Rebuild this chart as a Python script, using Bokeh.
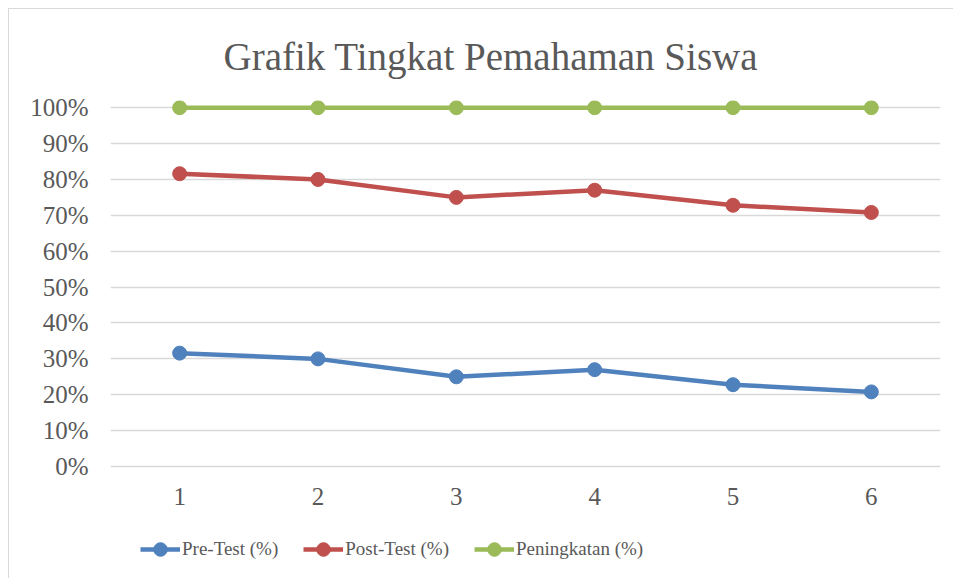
from bokeh.plotting import figure
from bokeh.models import FactorRange, Range1d, FixedTicker, Legend, LegendItem
from bokeh.embed import file_html
from bokeh.resources import INLINE

# ---- data ----
categories = ["1", "2", "3", "4", "5", "6"]
pre_test = [31.6, 30.0, 25.0, 27.0, 22.8, 20.8]
post_test = [81.6, 80.0, 75.0, 77.0, 72.8, 70.8]
peningkatan = [100, 100, 100, 100, 100, 100]
y_ticks = [0, 10, 20, 30, 40, 50, 60, 70, 80, 90, 100]
series_names = ["Pre-Test (%)", "Post-Test (%)", "Peningkatan (%)"]
colors = ["#4F81BD", "#C0504D", "#9BBB59"]

FONT = "Liberation Serif"
TXT = "#595959"

# the frame reaches below 0% so that the legend (drawn in the frame) is visible
p = figure(width=945, height=570, output_backend="svg", toolbar_location=None,
           x_range=FactorRange(factors=categories), y_range=Range1d(-31.2, 102),
           min_border_left=101, min_border_right=14, min_border_top=91,
           min_border_bottom=1)
p.styles = {"margin-left": "8px", "margin-top": "8px",
            "border-left": "1px solid #D9D9D9", "border-top": "1px solid #D9D9D9"}

p.title.text = "Grafik Tingkat Pemahaman Siswa"
p.title.align = "left"
p.title.offset = 113
p.title.text_font = FONT
p.title.text_font_size = "39px"
p.title.text_font_style = "normal"
p.title.text_color = TXT
p.title.standoff = 46

p.outline_line_color = None
p.xgrid.grid_line_color = None
p.ygrid.grid_line_color = "#D9D9D9"
p.ygrid.grid_line_width = 1.5
p.yaxis.ticker = FixedTicker(ticks=y_ticks)
p.yaxis.major_label_overrides = {t: f"{t}%" for t in y_ticks}
p.xaxis.fixed_location = 0

for ax in (p.xaxis, p.yaxis):
    ax.axis_line_color = None
    ax.major_tick_line_color = None
    ax.minor_tick_line_color = None
    ax.major_tick_out = 0
    ax.major_tick_in = 0
    ax.major_label_text_font = FONT
    ax.major_label_text_font_size = "25px"
    ax.major_label_text_color = TXT
p.yaxis.major_label_standoff = 22
p.xaxis.major_label_standoff = 21

items = []
for name, vals, c in zip(series_names, [pre_test, post_test, peningkatan], colors):
    l = p.line(categories, vals, line_color=c, line_width=4.5)
    s = p.scatter(categories, vals, size=14, fill_color=c, line_color=c)
    items.append(LegendItem(label=name, renderers=[l, s]))

legend = Legend(items=items, orientation="horizontal", location=(30, 12),
                glyph_width=40, glyph_height=34, label_height=34,
                label_standoff=2, spacing=25,
                padding=0, margin=0, border_line_color=None,
                background_fill_alpha=0,
                label_text_font=FONT, label_text_font_size="19px",
                label_text_color=TXT)
p.add_layout(legend)

open("out.html", "w").write(file_html(p, INLINE))
